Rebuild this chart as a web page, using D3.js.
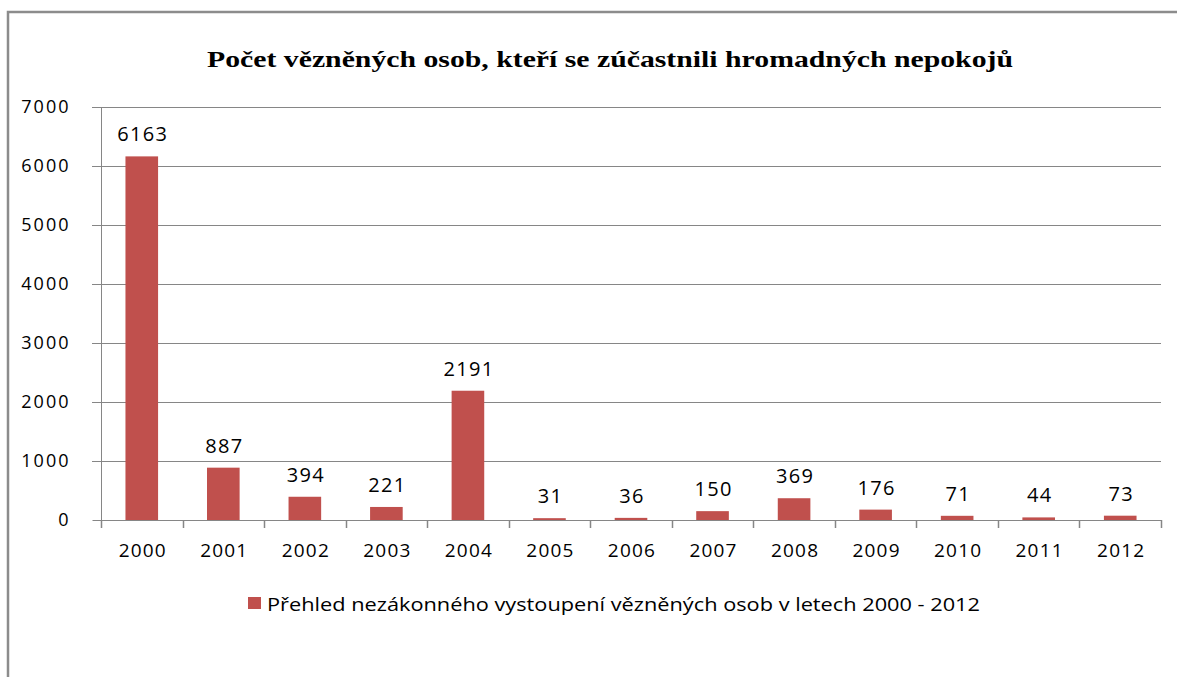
<!DOCTYPE html>
<html>
<head>
<meta charset="utf-8">
<script src="https://cdn.jsdelivr.net/npm/d3@7"></script>
<style>
  body { margin: 0; background: #fff; }
  svg text { fill: #000; }
</style>
</head>
<body>
<div id="chart-holder"></div>
<script>
// chart data
var years = ["2000", "2001", "2002", "2003", "2004", "2005", "2006",
  "2007", "2008", "2009", "2010", "2011", "2012"];
var counts = [6163, 887, 394, 221, 2191, 31, 36, 150, 369, 176, 71, 44, 73];
var yTicks = [0, 1000, 2000, 3000, 4000, 5000, 6000, 7000];
var chartTitle = "Počet vězněných osob, kteří se zúčastnili hromadných nepokojů";
var legendLabel = "Přehled nezákonného vystoupení vězněných osob v letech 2000 - 2012";

var width = 1177, height = 677;
var barColor = "#c0504d";
var gridColor = "#868686";

var svg = d3.select("#chart-holder")
  .append("svg")
  .attr("width", width)
  .attr("height", height);

// outer frame
svg.append("path")
  .attr("d", "M8,677 V12 H1177")
  .attr("fill", "none")
  .attr("stroke", "#8c8c8c")
  .attr("stroke-width", 2.5);

// plot area (note: "top" is reserved on window, so prefix these)
var plotLeft = 101, plotRight = 1161, plotTop = 107, plotBottom = 520;

var x = d3.scaleBand()
  .domain(years)
  .range([plotLeft, plotRight])
  .paddingInner(0.6)
  .paddingOuter(0.3);

var y = d3.scaleLinear()
  .domain([0, 7000])
  .range([plotBottom, plotTop]);

// gridlines
svg.selectAll("line.grid")
  .data(yTicks.filter(function(d) { return d > 0; }))
  .enter()
  .append("line")
  .attr("class", "grid")
  .attr("x1", plotLeft - 9)
  .attr("x2", plotRight)
  .attr("y1", function(d) { return Math.round(y(d)) + 0.5; })
  .attr("y2", function(d) { return Math.round(y(d)) + 0.5; })
  .attr("stroke", gridColor)
  .attr("stroke-width", 1.2);

// y axis
var yAxis = svg.append("g")
  .attr("transform", "translate(" + (plotLeft + 0.5) + ",0)")
  .call(d3.axisLeft(y).tickValues(yTicks).tickSize(9).tickPadding(22)
    .tickFormat(d3.format("d")));
yAxis.select(".domain").attr("stroke", gridColor)
  .attr("d", "M0," + (plotBottom + 8) + "V" + plotTop);
yAxis.selectAll(".tick line").attr("stroke", gridColor);
yAxis.selectAll(".tick text")
  .attr("font-family", "Open Sans")
  .attr("font-size", 18)
  .attr("letter-spacing", 2)
  .attr("dy", "0.3em");

// x axis line + ticks at band boundaries
svg.append("line")
  .attr("x1", plotLeft).attr("x2", plotRight)
  .attr("y1", plotBottom + 0.5).attr("y2", plotBottom + 0.5)
  .attr("stroke", gridColor);

var boundaries = years.map(function(d) { return x(d) - x.step() * x.paddingOuter(); });
boundaries.push(plotRight);
svg.selectAll("line.xtick")
  .data(boundaries)
  .enter()
  .append("line")
  .attr("class", "xtick")
  .attr("x1", function(d) { return Math.round(d) + 0.5; })
  .attr("x2", function(d) { return Math.round(d) + 0.5; })
  .attr("y1", plotBottom)
  .attr("y2", plotBottom + 8)
  .attr("stroke", gridColor)
  .attr("stroke-width", 1.5);

svg.selectAll("text.label-year")
  .data(years)
  .enter()
  .append("text")
  .attr("class", "label-year")
  .attr("x", function(d) { return x(d) + x.bandwidth() / 2 + 1; })
  .attr("y", 557)
  .attr("text-anchor", "middle")
  .attr("font-family", "Open Sans")
  .attr("font-size", 19)
  .attr("letter-spacing", 1.2)
  .text(function(d) { return d; });

// bars
svg.selectAll("rect.bar")
  .data(counts)
  .enter()
  .append("rect")
  .attr("class", "bar")
  .attr("x", function(d, i) { return x(years[i]); })
  .attr("y", function(d) { return y(d); })
  .attr("width", x.bandwidth())
  .attr("height", function(d) { return plotBottom - y(d); })
  .attr("fill", barColor);

// value labels
svg.selectAll("text.label-value")
  .data(counts)
  .enter()
  .append("text")
  .attr("class", "label-value")
  .attr("x", function(d, i) { return x(years[i]) + x.bandwidth() / 2 + 1; })
  .attr("y", function(d) { return y(d) - 15; })
  .attr("text-anchor", "middle")
  .attr("font-family", "Open Sans")
  .attr("font-size", 20)
  .attr("letter-spacing", 1.3)
  .text(function(d) { return d; });

// title
svg.append("text")
  .attr("x", 610)
  .attr("y", 67)
  .attr("text-anchor", "middle")
  .attr("font-family", "Liberation Serif")
  .attr("font-weight", "bold")
  .attr("font-size", 23)
  .attr("textLength", 806)
  .attr("lengthAdjust", "spacingAndGlyphs")
  .text(chartTitle);

// legend
svg.append("rect")
  .attr("x", 248).attr("y", 597)
  .attr("width", 13).attr("height", 12)
  .attr("fill", barColor);
svg.append("text")
  .attr("x", 267)
  .attr("y", 611)
  .attr("font-family", "Open Sans")
  .attr("font-size", 18)
  .attr("textLength", 713)
  .attr("lengthAdjust", "spacingAndGlyphs")
  .text(legendLabel);
</script>
</body>
</html>
